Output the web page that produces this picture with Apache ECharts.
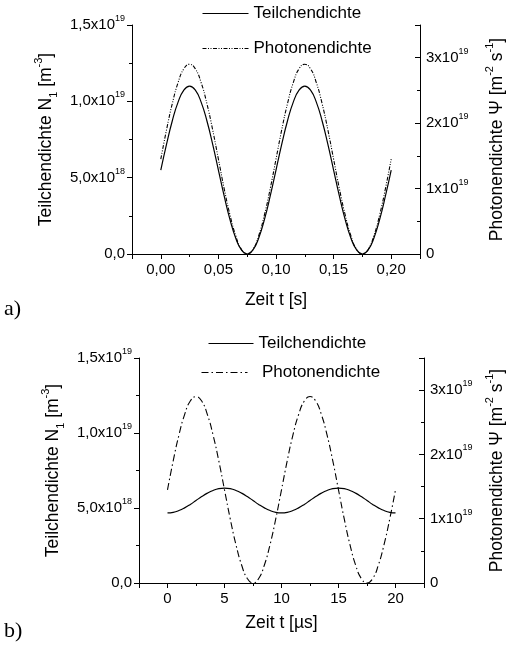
<!DOCTYPE html>
<html><head><meta charset="utf-8">
<script src="https://cdn.jsdelivr.net/npm/echarts@6/dist/echarts.min.js"></script>
<style>html,body{margin:0;padding:0;background:#fff}#c{width:514px;height:646px}</style>
</head><body><div id="c"></div>
<script>
// ---- Panel a) : time in s ----
const tA = [0,0.005,0.01,0.015,0.02,0.025,0.03,0.035,0.04,0.045,0.05,0.055,0.06,0.065,0.07,0.075,0.08,0.085,0.09,0.095,0.1,
            0.105,0.11,0.115,0.12,0.125,0.13,0.135,0.14,0.145,0.15,0.155,0.16,0.165,0.17,0.175,0.18,0.185,0.19,0.195,0.2];
const teilA = [5.50e18,7.20e18,8.73e18,9.95e18,10.73e18,11.00e18,10.73e18,9.95e18,8.73e18,7.20e18,5.50e18,3.80e18,2.27e18,1.05e18,0.27e18,0.00,0.27e18,1.05e18,2.27e18,3.80e18,5.50e18,
               7.20e18,8.73e18,9.95e18,10.73e18,11.00e18,10.73e18,9.95e18,8.73e18,7.20e18,5.50e18,3.80e18,2.27e18,1.05e18,0.27e18,0.00,0.27e18,1.05e18,2.27e18,3.80e18,5.50e18];
const photA = [1.45e19,1.90e19,2.30e19,2.62e19,2.83e19,2.90e19,2.83e19,2.62e19,2.30e19,1.90e19,1.45e19,1.00e19,0.60e19,0.28e19,0.07e19,0.00,0.07e19,0.28e19,0.60e19,1.00e19,1.45e19,
               1.90e19,2.30e19,2.62e19,2.83e19,2.90e19,2.83e19,2.62e19,2.30e19,1.90e19,1.45e19,1.00e19,0.60e19,0.28e19,0.07e19,0.00,0.07e19,0.28e19,0.60e19,1.00e19,1.45e19];
// ---- Panel b) : time in µs ----
const tB = [0,0.5,1,1.5,2,2.5,3,3.5,4,4.5,5,5.5,6,6.5,7,7.5,8,8.5,9,9.5,10,
            10.5,11,11.5,12,12.5,13,13.5,14,14.5,15,15.5,16,16.5,17,17.5,18,18.5,19,19.5,20];
const teilB = [4.67e18,4.71e18,4.83e18,5.01e18,5.24e18,5.50e18,5.76e18,5.99e18,6.17e18,6.29e18,6.33e18,6.29e18,6.17e18,5.99e18,5.76e18,5.50e18,5.24e18,5.01e18,4.83e18,4.71e18,4.67e18,
               4.71e18,4.83e18,5.01e18,5.24e18,5.50e18,5.76e18,5.99e18,6.17e18,6.29e18,6.33e18,6.29e18,6.17e18,5.99e18,5.76e18,5.50e18,5.24e18,5.01e18,4.83e18,4.71e18,4.67e18];
const photB = [1.45e19,1.90e19,2.30e19,2.62e19,2.83e19,2.90e19,2.83e19,2.62e19,2.30e19,1.90e19,1.45e19,1.00e19,0.60e19,0.28e19,0.07e19,0.00,0.07e19,0.28e19,0.60e19,1.00e19,1.45e19,
               1.90e19,2.30e19,2.62e19,2.83e19,2.90e19,2.83e19,2.62e19,2.30e19,1.90e19,1.45e19,1.00e19,0.60e19,0.28e19,0.07e19,0.00,0.07e19,0.28e19,0.60e19,1.00e19,1.45e19];
// ---- Labels ----
const seriesNames = ['Teilchendichte','Photonendichte'];
const xNameA = 'Zeit t [s]';
const xNameB = 'Zeit t [µs]';

const FF = '"Liberation Sans", Arial, sans-serif';
const pairs = (xs, ys) => xs.map((x, i) => [x, ys[i]]);

function sci(v, dec) {
  if (Math.abs(v) < 1e-30) return dec ? '0,' + '0'.repeat(dec) : '0';
  const e = Math.floor(Math.log10(v) + 1e-9);
  const m = (v / Math.pow(10, e)).toFixed(dec).replace('.', ',');
  return '{t|' + m + 'x10}{s|' + e + '}';
}
const tickRich = {
  t: {fontSize: 15, fontFamily: FF, color: '#000', verticalAlign: 'middle', lineHeight: 22},
  s: {fontSize: 9, fontFamily: FF, color: '#000', verticalAlign: 'top', lineHeight: 22}
};
const nameRich = {
  n: {fontSize: 17.5, fontFamily: FF, color: '#000', verticalAlign: 'middle', lineHeight: 26},
  sub: {fontSize: 11, fontFamily: FF, color: '#000', verticalAlign: 'bottom', lineHeight: 26},
  sup: {fontSize: 11, fontFamily: FF, color: '#000', verticalAlign: 'top', lineHeight: 26}
};
const leftName = '{n|Teilchendichte N}{sub|1}{n| [m}{sup|-3}{n|]}';
const rightName = '{n|Photonendichte Ψ [m}{sup|-2}{n| s}{sup|-1}{n|]}';

const axLine = {show: true, onZero: false, lineStyle: {color: '#000', width: 1}};
const tick = (inside) => ({show: true, inside: inside, length: 5, lineStyle: {color: '#000', width: 1}});
const minor = {show: true, splitNumber: 2, length: 3, lineStyle: {color: '#000', width: 1}};

function xAx(grid, min, max, fmt, name, gap) {
  return {
    type: 'value', gridIndex: grid, min: min, max: max, splitNumber: 5,
    axisLine: axLine, axisTick: tick(false), minorTick: minor, splitLine: {show: false},
    axisLabel: {margin: 8, fontSize: 15, fontFamily: FF, color: '#000', showMinLabel: false, showMaxLabel: false, formatter: fmt},
    name: name, nameLocation: 'middle', nameGap: gap,
    nameTextStyle: {fontSize: 17.5, fontFamily: FF, color: '#000'}
  };
}
function yLeft(grid, gap) {
  return {
    type: 'value', gridIndex: grid, position: 'left', min: 0, max: 1.5e19, interval: 5e18,
    axisLine: axLine, axisTick: tick(false), minorTick: minor, splitLine: {show: false},
    axisLabel: {margin: 7, fontSize: 15, fontFamily: FF, color: '#000', formatter: v => sci(v, 1), rich: tickRich},
    name: leftName, nameLocation: 'middle', nameRotate: 90, nameGap: gap,
    nameTextStyle: {rich: nameRich}
  };
}
function yRight(grid, gap) {
  return {
    type: 'value', gridIndex: grid, position: 'right', min: 0, max: 3.5e19, interval: 1e19,
    axisLine: axLine, axisTick: tick(true), minorTick: minor, splitLine: {show: false},
    axisLabel: {margin: 6, fontSize: 15, fontFamily: FF, color: '#000', showMaxLabel: false,
      formatter: v => (v > 3.2e19 ? '' : sci(v, 0)), rich: tickRich},
    name: rightName, nameLocation: 'middle', nameRotate: 90, nameGap: gap,
    nameTextStyle: {rich: nameRich}
  };
}

const legText = {fontSize: 17, fontFamily: FF, color: '#000'};
function leg(name, left, top, w, fmt) {
  return {data: [name], left: left, top: top, padding: 0, itemWidth: w, itemHeight: 14,
    selectedMode: false, textStyle: legText,
    itemStyle: {opacity: 0, color: 'rgba(0,0,0,0)', borderWidth: 0},
    lineStyle: {width: 1},
    formatter: fmt || (n => n.replace(' (b)', ''))};
}

const solid = {color: '#000', width: 1.2, type: 'solid'};
const dashA = {color: '#000', width: 1.1, type: [4, 1.5, 1, 1.5, 1, 1.5]};
const dashB = {color: '#000', width: 1.1, type: [7, 3, 1.5, 3]};

const chart = echarts.init(document.getElementById('c'), null, {renderer: 'canvas'});
chart.setOption({
  animation: false,
  backgroundColor: '#fff',
  grid: [
    {left: 132, top: 25, width: 294, height: 229},
    {left: 139, top: 358, width: 299, height: 225}
  ],
  xAxis: [
    xAx(0, -0.025, 0.225, v => v.toFixed(2).replace('.', ','), xNameA, 37),
    xAx(1, -2.5, 22.5, v => String(Math.round(v)), xNameB, 31)
  ],
  yAxis: [yLeft(0, 66), yRight(0, 64), yLeft(1, 73), yRight(1, 60)],
  legend: [
    leg(seriesNames[0], 202, 5, 46),
    leg(seriesNames[1], 202, 40, 46),
    leg(seriesNames[0] + ' (b)', 208, 335, 45),
    leg(seriesNames[1] + ' (b)', 201, 364, 46, n => '  ' + n.replace(' (b)', ''))
  ],
  graphic: [
    {type: 'text', left: 4, top: 298, style: {text: 'a)', font: '22px "Liberation Serif", "Times New Roman", serif', fill: '#000'}},
    {type: 'text', left: 4, top: 620, style: {text: 'b)', font: '22px "Liberation Serif", "Times New Roman", serif', fill: '#000'}}
  ],
  series: [
    {name: seriesNames[0], type: 'line', xAxisIndex: 0, yAxisIndex: 0, data: pairs(tA, teilA),
     symbol: 'none', smooth: true, lineStyle: solid, itemStyle: {color: '#000'}},
    {name: seriesNames[1], type: 'line', xAxisIndex: 0, yAxisIndex: 1, data: pairs(tA, photA),
     symbol: 'none', smooth: true, lineStyle: dashA, itemStyle: {color: '#000'}},
    {name: seriesNames[0] + ' (b)', type: 'line', xAxisIndex: 1, yAxisIndex: 2, data: pairs(tB, teilB),
     symbol: 'none', smooth: true, lineStyle: solid, itemStyle: {color: '#000'}},
    {name: seriesNames[1] + ' (b)', type: 'line', xAxisIndex: 1, yAxisIndex: 3, data: pairs(tB, photB),
     symbol: 'none', smooth: true, lineStyle: dashB, itemStyle: {color: '#000'}}
  ]
});
</script>
</body></html>
